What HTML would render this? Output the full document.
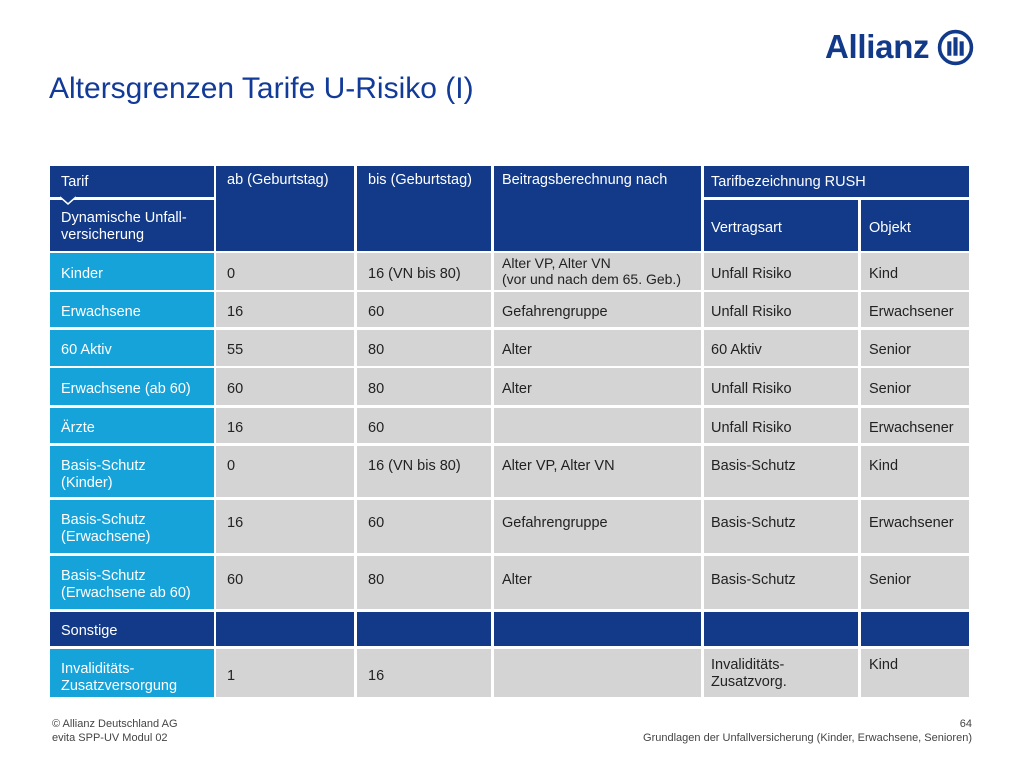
<!DOCTYPE html>
<html><head><meta charset="utf-8"><style>
body{margin:0;width:1024px;height:768px;background:#fff;position:relative;overflow:hidden;font-family:"Liberation Sans",sans-serif}
.c{position:absolute;box-sizing:border-box;padding:5px 0 0 11px;display:flex;align-items:center;font-size:14.5px;line-height:17px;color:#222;background:#d4d4d4}
.d{background:#123a88;color:#fff}
.l{background:#16a3da;color:#fff}
.t{align-items:flex-start;padding-top:12px}
.h{align-items:flex-start}
.v{padding-left:7px}
</style></head><body>
<div style="position:absolute;left:825px;top:29px;height:36px;display:flex;align-items:center">
<span style="font:bold 33px 'Liberation Sans',sans-serif;color:#123a88;letter-spacing:-0.3px">Allianz</span>
<svg width="37" height="37" viewBox="0 0 36 36" style="margin-left:8px"><circle cx="18" cy="18" r="15.5" fill="none" stroke="#123a88" stroke-width="3.5"/><rect x="10" y="12" width="4" height="14" fill="#123a88"/><rect x="16" y="8" width="4" height="18" fill="#123a88"/><rect x="22" y="12" width="4" height="14" fill="#123a88"/></svg>
</div>
<div style="position:absolute;left:49px;top:72px;font-size:30px;color:#123a98">Altersgrenzen Tarife U-Risiko (I)</div>

<div class="c d" style="left:50px;top:166px;width:164px;height:31px;padding-top:2px">Tarif</div>
<div class="c d" style="left:50px;top:200px;width:164px;height:51px;padding-top:3px">Dynamische Unfall-<br>versicherung</div>
<svg style="position:absolute;left:60px;top:196px" width="16" height="10"><polyline points="0,1 8,8 16,1" fill="#123a88" stroke="#fff" stroke-width="1.5"/></svg>
<div class="c d h" style="left:216px;top:166px;width:138px;height:85px;padding-top:6px">ab (Geburtstag)</div>
<div class="c d h" style="left:357px;top:166px;width:134px;height:85px;padding-top:6px">bis (Geburtstag)</div>
<div class="c d h" style="left:494px;top:166px;width:207px;height:85px;padding-top:6px;padding-left:8px">Beitragsberechnung nach</div>
<div class="c d v" style="left:704px;top:166px;width:265px;height:31px;padding-top:2px">Tarifbezeichnung RUSH</div>
<div class="c d v" style="left:704px;top:200px;width:154px;height:51px">Vertragsart</div>
<div class="c d" style="left:861px;top:200px;width:108px;height:51px;padding-left:8px">Objekt</div>

<!-- Kinder -->
<div class="c l" style="left:50px;top:253px;width:164px;height:37px">Kinder</div>
<div class="c" style="left:216px;top:253px;width:138px;height:37px">0</div>
<div class="c" style="left:357px;top:253px;width:134px;height:37px">16 (VN bis 80)</div>
<div class="c" style="left:494px;top:253px;width:207px;height:37px;font-size:14px;line-height:16px;padding-left:8px;align-items:flex-start;padding-top:2px">Alter VP, Alter VN<br>(vor und nach dem 65. Geb.)</div>
<div class="c v" style="left:704px;top:253px;width:154px;height:37px">Unfall Risiko</div>
<div class="c" style="left:861px;top:253px;width:108px;height:37px;padding-left:8px">Kind</div>
<!-- Erwachsene -->
<div class="c l" style="left:50px;top:292px;width:164px;height:35px">Erwachsene</div>
<div class="c" style="left:216px;top:292px;width:138px;height:35px">16</div>
<div class="c" style="left:357px;top:292px;width:134px;height:35px">60</div>
<div class="c" style="left:494px;top:292px;width:207px;height:35px;padding-left:8px">Gefahrengruppe</div>
<div class="c v" style="left:704px;top:292px;width:154px;height:35px">Unfall Risiko</div>
<div class="c" style="left:861px;top:292px;width:108px;height:35px;padding-left:8px">Erwachsener</div>
<!-- 60 Aktiv -->
<div class="c l" style="left:50px;top:330px;width:164px;height:36px">60 Aktiv</div>
<div class="c" style="left:216px;top:330px;width:138px;height:36px">55</div>
<div class="c" style="left:357px;top:330px;width:134px;height:36px">80</div>
<div class="c" style="left:494px;top:330px;width:207px;height:36px;padding-left:8px">Alter</div>
<div class="c v" style="left:704px;top:330px;width:154px;height:36px">60 Aktiv</div>
<div class="c" style="left:861px;top:330px;width:108px;height:36px;padding-left:8px">Senior</div>
<!-- Erwachsene ab 60 -->
<div class="c l" style="left:50px;top:368px;width:164px;height:37px">Erwachsene (ab 60)</div>
<div class="c" style="left:216px;top:368px;width:138px;height:37px">60</div>
<div class="c" style="left:357px;top:368px;width:134px;height:37px">80</div>
<div class="c" style="left:494px;top:368px;width:207px;height:37px;padding-left:8px">Alter</div>
<div class="c v" style="left:704px;top:368px;width:154px;height:37px">Unfall Risiko</div>
<div class="c" style="left:861px;top:368px;width:108px;height:37px;padding-left:8px">Senior</div>
<!-- Ärzte -->
<div class="c l" style="left:50px;top:408px;width:164px;height:35px">Ärzte</div>
<div class="c" style="left:216px;top:408px;width:138px;height:35px">16</div>
<div class="c" style="left:357px;top:408px;width:134px;height:35px">60</div>
<div class="c" style="left:494px;top:408px;width:207px;height:35px"></div>
<div class="c v" style="left:704px;top:408px;width:154px;height:35px">Unfall Risiko</div>
<div class="c" style="left:861px;top:408px;width:108px;height:35px;padding-left:8px">Erwachsener</div>
<!-- Basis Kinder -->
<div class="c l t" style="left:50px;top:446px;width:164px;height:51px">Basis-Schutz<br>(Kinder)</div>
<div class="c t" style="left:216px;top:446px;width:138px;height:51px">0</div>
<div class="c t" style="left:357px;top:446px;width:134px;height:51px">16 (VN bis 80)</div>
<div class="c t" style="left:494px;top:446px;width:207px;height:51px;padding-left:8px">Alter VP, Alter VN</div>
<div class="c t v" style="left:704px;top:446px;width:154px;height:51px">Basis-Schutz</div>
<div class="c t" style="left:861px;top:446px;width:108px;height:51px;padding-left:8px">Kind</div>
<!-- Basis Erwachsene -->
<div class="c l t" style="left:50px;top:500px;width:164px;height:53px">Basis-Schutz<br>(Erwachsene)</div>
<div class="c t" style="left:216px;top:500px;width:138px;height:53px;padding-top:15px">16</div>
<div class="c t" style="left:357px;top:500px;width:134px;height:53px;padding-top:15px">60</div>
<div class="c t" style="left:494px;top:500px;width:207px;height:53px;padding-left:8px;padding-top:15px">Gefahrengruppe</div>
<div class="c t v" style="left:704px;top:500px;width:154px;height:53px;padding-top:15px">Basis-Schutz</div>
<div class="c t" style="left:861px;top:500px;width:108px;height:53px;padding-left:8px;padding-top:15px">Erwachsener</div>
<!-- Basis ab 60 -->
<div class="c l t" style="left:50px;top:556px;width:164px;height:53px">Basis-Schutz<br>(Erwachsene ab 60)</div>
<div class="c t" style="left:216px;top:556px;width:138px;height:53px;padding-top:16px">60</div>
<div class="c t" style="left:357px;top:556px;width:134px;height:53px;padding-top:16px">80</div>
<div class="c t" style="left:494px;top:556px;width:207px;height:53px;padding-left:8px;padding-top:16px">Alter</div>
<div class="c t v" style="left:704px;top:556px;width:154px;height:53px;padding-top:16px">Basis-Schutz</div>
<div class="c t" style="left:861px;top:556px;width:108px;height:53px;padding-left:8px;padding-top:16px">Senior</div>
<!-- Sonstige -->
<div class="c d" style="left:50px;top:612px;width:164px;height:34px">Sonstige</div>
<div class="c d" style="left:216px;top:612px;width:138px;height:34px"></div>
<div class="c d" style="left:357px;top:612px;width:134px;height:34px"></div>
<div class="c d" style="left:494px;top:612px;width:207px;height:34px"></div>
<div class="c d" style="left:704px;top:612px;width:154px;height:34px"></div>
<div class="c d" style="left:861px;top:612px;width:108px;height:34px"></div>
<!-- Invalidität -->
<div class="c l" style="left:50px;top:649px;width:164px;height:48px;padding-top:10px">Invaliditäts-<br>Zusatzversorgung</div>
<div class="c" style="left:216px;top:649px;width:138px;height:48px;padding-top:6px">1</div>
<div class="c" style="left:357px;top:649px;width:134px;height:48px;padding-top:6px">16</div>
<div class="c" style="left:494px;top:649px;width:207px;height:48px"></div>
<div class="c t" style="left:704px;top:649px;width:154px;height:48px;padding-left:7px;padding-top:8px">Invaliditäts-<br>Zusatzvorg.</div>
<div class="c t" style="left:861px;top:649px;width:108px;height:48px;padding-left:8px;padding-top:8px">Kind</div>

<div style="position:absolute;left:52px;top:717px;font-size:11px;line-height:14px;color:#444">© Allianz Deutschland AG<br>evita SPP-UV Modul 02</div>
<div style="position:absolute;right:52px;top:717px;font-size:11px;line-height:14px;color:#444;text-align:right">64<br>Grundlagen der Unfallversicherung (Kinder, Erwachsene, Senioren)</div>
</body></html>
